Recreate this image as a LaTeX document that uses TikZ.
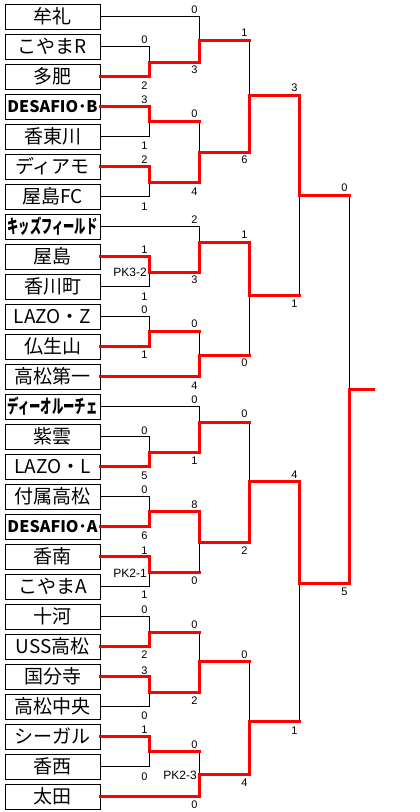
\documentclass[tikz,border=0pt]{standalone}
\usepackage{fontspec}
\usepackage{graphicx}
\setmainfont{Liberation Sans}
\newfontfamily\jp{Noto Sans CJK JP}
\tikzset{
  team/.style={draw, line width=1pt, minimum width=95pt, minimum height=25pt, inner sep=0pt,
    font=\jp\fontsize{19}{19}\selectfont},
  sc/.style={font=\fontsize{11}{11}\selectfont, inner sep=0pt},
  pk/.style={font=\fontsize{12}{12}\selectfont, inner sep=0pt, anchor=east},
  lost/.style={line width=1pt, black},
  won/.style={line width=3pt, red, line cap=rect}
}
\newcommand\sq[1]{\resizebox{90pt}{\height}{\bfseries #1}}
\newcommand\sqs[1]{\resizebox{90pt}{\height}{\fontsize{16}{16}\selectfont\bfseries #1}}
\newcommand\lostpath[2]{\draw[lost] (#1) -- (#1 -| #2) -- (#2);}
\newcommand\lostvert[2]{\draw[lost] (#1 -| #2) -- (#2);}
\newcommand\wonpath[2]{\draw[won] (#1) -- (#1 -| #2) -- (#2);}
\newcommand\wonhor[2]{\draw[won] (#1) -- (#1 -| #2);}
\newcommand\scr[3]{\node[sc] at (#1,#2) {#3};}
\begin{document}
\begin{tikzpicture}[x=1pt,y=-1pt]
\fill[white] (0,0) rectangle (420,812);
\useasboundingbox (0,0) rectangle (420,812);
% teams
\node[team] (t0)  at (52.5,16.5)  {牟礼};
\node[team] (t1)  at (52.5,46.5)  {こやまR};
\node[team] (t2)  at (52.5,76.5)  {多肥};
\node[team] (t3)  at (52.5,106.5) {\sqs{DESAFIO･B}};
\node[team] (t4)  at (52.5,136.5) {香東川};
\node[team] (t5)  at (52.5,166.5) {ディアモ};
\node[team] (t6)  at (52.5,196.5) {屋島FC};
\node[team] (t7)  at (52.5,226.5) {\sq{キッズフィールド}};
\node[team] (t8)  at (52.5,256.5) {屋島};
\node[team] (t9)  at (52.5,286.5) {香川町};
\node[team] (t10) at (52.5,316.5) {LAZO・Z};
\node[team] (t11) at (52.5,346.5) {仏生山};
\node[team] (t12) at (52.5,376.5) {高松第一};
\node[team] (t13) at (52.5,406.5) {\sq{ディーオルーチェ}};
\node[team] (t14) at (52.5,436.5) {紫雲};
\node[team] (t15) at (52.5,466.5) {LAZO・L};
\node[team] (t16) at (52.5,496.5) {付属高松};
\node[team] (t17) at (52.5,526.5) {\sqs{DESAFIO･A}};
\node[team] (t18) at (52.5,556.5) {香南};
\node[team] (t19) at (52.5,586.5) {こやまA};
\node[team] (t20) at (52.5,616.5) {十河};
\node[team] (t21) at (52.5,646.5) {USS高松};
\node[team] (t22) at (52.5,676.5) {国分寺};
\node[team] (t23) at (52.5,706.5) {高松中央};
\node[team] (t24) at (52.5,736.5) {シーガル};
\node[team] (t25) at (52.5,766.5) {香西};
\node[team] (t26) at (52.5,796.5) {太田};
% match points
\coordinate (a1) at (149.5,62);
\coordinate (a2) at (149.5,121);
\coordinate (a3) at (149.5,182.5);
\coordinate (a4) at (149.5,272.5);
\coordinate (a5) at (149.5,331);
\coordinate (a6) at (149.5,452.7);
\coordinate (a7) at (149.5,511.7);
\coordinate (a8) at (149.5,572.7);
\coordinate (a9) at (149.5,632);
\coordinate (a10) at (149.5,692);
\coordinate (a11) at (149.5,751.7);
\coordinate (b1) at (199.5,40);
\coordinate (b2) at (199.5,152.7);
\coordinate (b3) at (199.5,242.7);
\coordinate (b4) at (199.5,355.7);
\coordinate (b5) at (199.5,422.7);
\coordinate (b6) at (199.5,542.7);
\coordinate (b7) at (199.5,661.7);
\coordinate (b8) at (199.5,774.5);
\coordinate (c1) at (249.5,95);
\coordinate (c2) at (249.5,295.7);
\coordinate (c3) at (249.5,481.7);
\coordinate (c4) at (249.5,721.7);
\coordinate (d1) at (299.5,195);
\coordinate (d2) at (299.5,583.3);
\coordinate (f) at (349.5,389.3);
\coordinate (champ) at (373.5,389.3);
% black (losing) paths
\lostpath{t1.east}{a1}
\lostpath{t4.east}{a2}
\lostpath{t6.east}{a3}
\lostpath{t9.east}{a4}
\lostpath{t10.east}{a5}
\lostpath{t14.east}{a6}
\lostpath{t16.east}{a7}
\lostpath{t19.east}{a8}
\lostpath{t20.east}{a9}
\lostpath{t23.east}{a10}
\lostpath{t25.east}{a11}
\lostpath{t0.east}{b1}
\lostvert{a2}{b2}
\lostpath{t7.east}{b3}
\lostvert{a5}{b4}
\lostpath{t13.east}{b5}
\lostvert{a8}{b6}
\lostvert{a9}{b7}
\lostvert{a11}{b8}
\lostvert{b1}{c1}
\lostvert{b4}{c2}
\lostvert{b5}{c3}
\lostvert{b7}{c4}
\lostvert{c2}{d1}
\lostvert{c4}{d2}
\lostvert{d1}{f}
% red (winning) paths
\wonpath{t2.east}{a1}
\wonpath{t3.east}{a2}
\wonpath{t5.east}{a3}
\wonpath{t8.east}{a4}
\wonpath{t11.east}{a5}
\wonpath{t15.east}{a6}
\wonpath{t17.east}{a7}
\wonpath{t18.east}{a8}
\wonpath{t21.east}{a9}
\wonpath{t22.east}{a10}
\wonpath{t24.east}{a11}
\wonpath{a1}{b1}
\wonpath{a3}{b2}
\wonpath{a4}{b3}
\wonpath{t12.east}{b4}
\wonpath{a6}{b5}
\wonpath{a7}{b6}
\wonpath{a10}{b7}
\wonpath{t26.east}{b8}
\wonpath{b2}{c1}
\wonpath{b3}{c2}
\wonpath{b6}{c3}
\wonpath{b8}{c4}
\wonpath{c1}{d1}
\wonpath{c3}{d2}
\wonpath{d2}{f}
\wonhor{a2}{b2}
\wonhor{a5}{b4}
\wonhor{a8}{b6}
\wonhor{a9}{b7}
\wonhor{a11}{b8}
\wonhor{b1}{c1}
\wonhor{b4}{c2}
\wonhor{b5}{c3}
\wonhor{b7}{c4}
\wonhor{c2}{d1}
\wonhor{c4}{d2}
\wonhor{d1}{f}
\draw[won] (f) -- (champ);
% scores round 1
\scr{144.5}{40}{0}   \scr{144.5}{86}{2}
\scr{144.5}{99.5}{3} \scr{144.5}{145.7}{1}
\scr{144.5}{160}{2}  \scr{144.5}{206.7}{1}
\scr{144.5}{250}{1}  \scr{144.5}{296.7}{1}
\scr{144.5}{309.3}{0} \scr{144.5}{355}{1}
\scr{144.5}{431}{0}  \scr{144.5}{476}{5}
\scr{144.5}{489.3}{0} \scr{144.5}{536}{6}
\scr{144.5}{550.7}{1} \scr{144.5}{595}{1}
\scr{144.5}{610}{0}  \scr{144.5}{655}{2}
\scr{144.5}{670.7}{3} \scr{144.5}{715.7}{0}
\scr{144.5}{729.3}{1} \scr{144.5}{776.7}{0}
% round 2
\scr{194.5}{9.3}{0}   \scr{194.5}{70}{3}
\scr{194.5}{113.7}{0} \scr{194.5}{191.7}{4}
\scr{194.5}{220}{2}   \scr{194.5}{280}{3}
\scr{194.5}{324}{0}   \scr{194.5}{386}{4}
\scr{194.5}{399.5}{0} \scr{194.5}{460.7}{1}
\scr{194.5}{505}{8}   \scr{194.5}{581}{0}
\scr{194.5}{624.3}{0} \scr{194.5}{700.7}{2}
\scr{194.5}{744.3}{0} \scr{194.5}{805}{0}
% round 3
\scr{244.5}{32.7}{1}  \scr{244.5}{160}{6}
\scr{244.5}{234.3}{1} \scr{244.5}{362.7}{0}
\scr{244.5}{414}{0}   \scr{244.5}{550.7}{2}
\scr{244.5}{655}{0}   \scr{244.5}{782.7}{4}
% round 4
\scr{294.5}{88}{3}    \scr{294.5}{304}{1}
\scr{294.5}{475}{4}   \scr{294.5}{730.7}{1}
% final
\scr{344.5}{188}{0}   \scr{344.5}{591.7}{5}
% PK
\node[pk] (pk1) at (147,272) {PK3-2};
\node[pk] (pk2) at (147,573.3) {PK2-1};
\node[pk] (pk3) at (197,775) {PK2-3};
\end{tikzpicture}
\end{document}
